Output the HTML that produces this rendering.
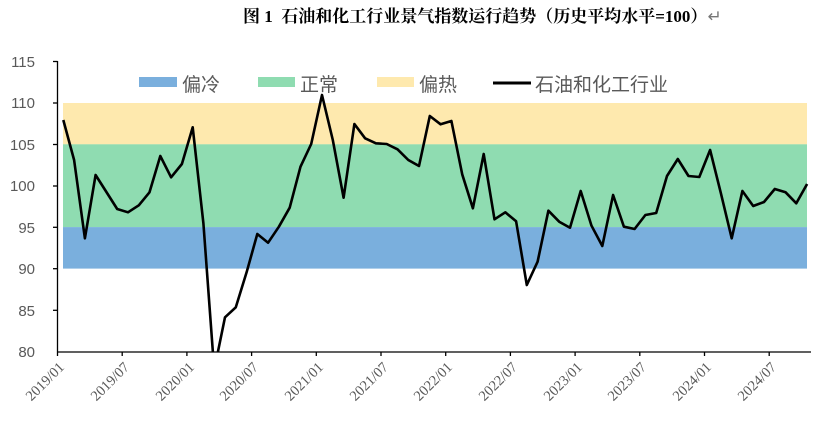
<!DOCTYPE html>
<html><head><meta charset="utf-8"><style>
body{margin:0;background:#fff;}
svg{display:block;}
</style></head><body>
<svg width="817" height="430" viewBox="0 0 817 430" xmlns="http://www.w3.org/2000/svg">
<text x="243" y="22" font-family="'Liberation Serif','Noto Serif CJK SC',serif" font-weight="bold" font-size="17" fill="#000">图 1&#160;&#160;石油和化工行业景气指数运行趋势（历史平均水平=100）<tspan font-weight="normal" fill="#777">↵</tspan></text>
<rect x="63" y="103" width="744" height="41.4" fill="#fee9ae"/>
<rect x="63" y="144.3" width="744" height="82.9" fill="#8fdcb1"/>
<rect x="63" y="227.1" width="744" height="41.5" fill="#7aafdd"/>
<g font-family="'Liberation Sans','Noto Sans CJK SC',sans-serif" font-size="19" fill="#595959">
<rect x="139" y="77" width="38" height="10" fill="#7aafdd"/><text x="182" y="91">偏冷</text>
<rect x="258" y="77" width="37" height="10" fill="#8fdcb1"/><text x="300" y="91">正常</text>
<rect x="377" y="77" width="37" height="10" fill="#fee9ae"/><text x="419" y="91">偏热</text>
<line x1="493" y1="83" x2="531" y2="83" stroke="#000" stroke-width="3"/><text x="535" y="91">石油和化工行业</text>
</g>
<g stroke="#000" stroke-width="1.3">
<line x1="57.5" y1="61" x2="57.5" y2="352"/>
<line x1="57" y1="352" x2="811" y2="352"/>
<line x1="53" y1="61.5" x2="57.5" y2="61.5"/><line x1="53" y1="103" x2="57.5" y2="103"/><line x1="53" y1="144.5" x2="57.5" y2="144.5"/><line x1="53" y1="186" x2="57.5" y2="186"/><line x1="53" y1="227.3" x2="57.5" y2="227.3"/><line x1="53" y1="268.7" x2="57.5" y2="268.7"/><line x1="53" y1="310.3" x2="57.5" y2="310.3"/>
<line x1="57.5" y1="352" x2="57.5" y2="356"/><line x1="122.2" y1="352" x2="122.2" y2="356"/><line x1="186.9" y1="352" x2="186.9" y2="356"/><line x1="251.6" y1="352" x2="251.6" y2="356"/><line x1="316.3" y1="352" x2="316.3" y2="356"/><line x1="381" y1="352" x2="381" y2="356"/><line x1="445.7" y1="352" x2="445.7" y2="356"/><line x1="510.4" y1="352" x2="510.4" y2="356"/><line x1="575.1" y1="352" x2="575.1" y2="356"/><line x1="639.8" y1="352" x2="639.8" y2="356"/><line x1="704.5" y1="352" x2="704.5" y2="356"/><line x1="769.2" y1="352" x2="769.2" y2="356"/>
</g>
<g font-family="'Liberation Sans',sans-serif" font-size="15" fill="#595959" text-anchor="end">
<text x="35" y="67">115</text><text x="35" y="108">110</text><text x="35" y="150">105</text><text x="35" y="191">100</text><text x="35" y="233">95</text><text x="35" y="274">90</text><text x="35" y="316">85</text><text x="35" y="357">80</text>
</g>
<g font-family="'Liberation Serif',serif" font-size="14.5" fill="#595959" text-anchor="end">
<text transform="translate(65,368) rotate(-45)">2019/01</text>
<text transform="translate(130,368) rotate(-45)">2019/07</text>
<text transform="translate(195,368) rotate(-45)">2020/01</text>
<text transform="translate(259,368) rotate(-45)">2020/07</text>
<text transform="translate(324,368) rotate(-45)">2021/01</text>
<text transform="translate(389,368) rotate(-45)">2021/07</text>
<text transform="translate(453,368) rotate(-45)">2022/01</text>
<text transform="translate(518,368) rotate(-45)">2022/07</text>
<text transform="translate(583,368) rotate(-45)">2023/01</text>
<text transform="translate(647,368) rotate(-45)">2023/07</text>
<text transform="translate(712,368) rotate(-45)">2024/01</text>
<text transform="translate(777,368) rotate(-45)">2024/07</text>
</g>
<defs><clipPath id="c"><rect x="58" y="55" width="760" height="297"/></clipPath></defs>
<polyline clip-path="url(#c)" fill="none" stroke="#000" stroke-width="2.6" stroke-linejoin="round" points="63.3,120 74.1,160 84.9,238.3 95.6,175 106.4,192 117.2,209 128,212.3 138.8,205.3 149.5,192.3 160.3,156 171.1,177.3 181.9,164 192.7,127.3 203.4,223.3 214.2,370 225,317.3 235.8,307.3 246.6,272.3 257.3,234 268.1,242.7 278.9,226.7 289.7,207.7 300.5,166.7 311.2,144 322,95 332.8,140 343.6,197.7 354.4,124 365.1,138.3 375.9,143.3 386.7,144 397.5,149.3 408.3,160 419,166 429.8,116 440.6,124.3 451.4,121 462.2,174.3 472.9,208.3 483.7,154 494.5,219.3 505.3,212.3 516.1,221.3 526.8,285 537.6,261.7 548.4,210.7 559.2,221.7 570,227.7 580.7,191 591.5,225.7 602.3,246 613.1,195 623.9,226.7 634.6,229 645.4,215 656.2,213 667,176 677.8,159 688.5,176 699.3,177 710.1,150 720.9,193.3 731.7,238.3 742.4,191 753.2,206 764,202 774.8,189 785.6,192.3 796.3,203.3 807.1,184"/>
</svg>
</body></html>
